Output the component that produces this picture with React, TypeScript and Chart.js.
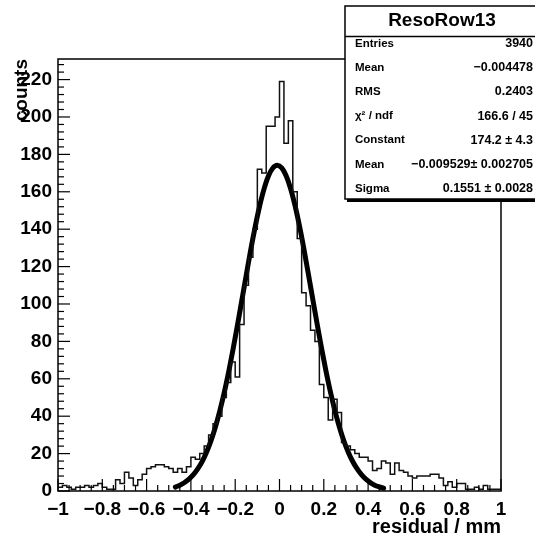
import React, { useEffect, useRef } from "react";
import { Chart, registerables } from "chart.js";

Chart.register(...registerables);

// Histogram: 100 bins from -1 to 1
const histMin = -1;
const binWidth = 0.02;
const counts = [
  2, 3, 2, 1, 2, 2, 3, 2, 3, 4, 2, 1, 1,
  6, 4, 10, 7, 3, 6, 9, 12, 13, 14, 14, 13, 12, 10, 12, 10, 13, 18, 17,
  20, 24, 30, 36, 40, 50, 58, 69, 61, 89, 110, 125, 140, 172, 170, 195, 195, 200,
  219, 186, 198, 160, 135, 106, 99, 86, 80, 57, 50, 38, 49,
  42, 26, 24, 22, 20, 18, 18, 16, 11, 12, 16, 15, 9, 15, 11, 10, 8,
  7, 8, 8, 8, 9, 9, 7, 3, 5, 2, 4, 4, 1, 1, 2, 1, 3, 1, 1, 1,
];

// Gaussian fit curve samples
const fitX = [
  -0.47, -0.45, -0.43, -0.41, -0.39, -0.37, -0.35, -0.33, -0.31, -0.29, -0.27, -0.25,
  -0.23, -0.21, -0.19, -0.17, -0.15, -0.13, -0.11, -0.09, -0.07, -0.05, -0.03, -0.01,
  0.01, 0.03, 0.05, 0.07, 0.09, 0.11, 0.13, 0.15, 0.17, 0.19, 0.21, 0.23,
  0.25, 0.27, 0.29, 0.31, 0.33, 0.35, 0.37, 0.39, 0.41, 0.43, 0.45, 0.47,
];
const fitY = [
  2.1, 3.1, 4.4, 6.2, 8.6, 11.7, 15.6, 20.6, 26.7, 34.0, 42.6, 52.4,
  63.4, 75.6, 88.5, 102.0, 115.5, 128.9, 141.2, 152.2, 161.4, 168.4, 172.7, 174.2,
  172.8, 168.6, 161.8, 152.7, 141.8, 129.5, 116.2, 102.7, 89.2, 76.2, 64.0, 52.9,
  43.0, 34.4, 27.0, 20.9, 15.9, 11.9, 8.7, 6.3, 4.5, 3.1, 2.2, 1.5,
];

// Axis tick labels
const xTickValues = [-1, -0.8, -0.6, -0.4, -0.2, 0, 0.2, 0.4, 0.6, 0.8, 1];
const xTickLabels = ["−1", "−0.8", "−0.6", "−0.4", "−0.2", "0", "0.2", "0.4", "0.6", "0.8", "1"];
const yTickValues = [0, 20, 40, 60, 80, 100, 120, 140, 160, 180, 200, 220];

const statsTitle = "ResoRow13";
const statsLabels = ["Entries", "Mean", "RMS", "χ² / ndf", "Constant", "Mean", "Sigma"];
const statsValues = [
  "3940",
  "−0.004478",
  "0.2403",
  "166.6 / 45",
  "174.2 ± 4.3",
  "−0.009529± 0.002705",
  "0.1551 ± 0.0028",
];

const xTitle = "residual / mm";
const yTitle = "counts";

const FONT = "'Liberation Sans', Arial, Helvetica, sans-serif";

const rootPlugin = {
  id: "rootDecor",
  afterDatasetsDraw(chart: any) {
    const { ctx, chartArea } = chart;
    const xs = chart.scales.x;
    const ys = chart.scales.y;
    const { left, right, top, bottom } = chartArea;
    ctx.save();
    ctx.strokeStyle = "#000";
    ctx.lineWidth = 1.5;
    // frame
    ctx.strokeRect(left, top, right - left, bottom - top);
    // x ticks (inward)
    ctx.lineWidth = 1.2;
    for (let k = -20; k <= 20; k++) {
      const v = k * 0.05;
      const px = xs.getPixelForValue(v);
      const len = k % 4 === 0 ? 12 : 6;
      ctx.beginPath();
      ctx.moveTo(px, bottom);
      ctx.lineTo(px, bottom - len);
      ctx.stroke();
    }
    // y ticks (inward)
    for (let k = 0; k <= 57; k++) {
      const v = k * 4;
      if (v > ys.max) break;
      const py = ys.getPixelForValue(v);
      const len = k % 5 === 0 ? 12 : 6;
      ctx.beginPath();
      ctx.moveTo(left, py);
      ctx.lineTo(left + len, py);
      ctx.stroke();
    }
    // axis titles
    ctx.fillStyle = "#000";
    ctx.font = `bold 20px ${FONT}`;
    ctx.textAlign = "right";
    ctx.textBaseline = "middle";
    ctx.fillText(xTitle, right, 527);
    ctx.save();
    ctx.translate(22, top);
    ctx.rotate(-Math.PI / 2);
    ctx.font = `bold 19px ${FONT}`;
    ctx.textAlign = "right";
    ctx.textBaseline = "middle";
    ctx.fillText(yTitle, 0, 0);
    ctx.restore();

    // stats box
    const bx = 345, by = 6, bw = 200, bh = 193;
    ctx.fillStyle = "#000";
    ctx.fillRect(bx + 2, by + 2, bw, bh + 1);
    ctx.fillStyle = "#fff";
    ctx.fillRect(bx, by, bw, bh);
    ctx.lineWidth = 1.5;
    ctx.strokeStyle = "#000";
    ctx.strokeRect(bx, by, bw, bh);
    ctx.beginPath();
    ctx.moveTo(bx, 36.5);
    ctx.lineTo(bx + bw, 36.5);
    ctx.stroke();
    ctx.fillStyle = "#000";
    ctx.font = `bold 19px ${FONT}`;
    ctx.textAlign = "center";
    ctx.textBaseline = "middle";
    ctx.fillText(statsTitle, 442, 21);
    for (let i = 0; i < statsLabels.length; i++) {
      const yy = 43.5 + i * 24.2;
      ctx.font = `bold 11.5px ${FONT}`;
      ctx.textAlign = "left";
      ctx.fillText(statsLabels[i], 355, yy);
      ctx.font = `bold 12.5px ${FONT}`;
      ctx.textAlign = "right";
      ctx.fillText(statsValues[i], 533, yy);
    }
    ctx.restore();
  },
};

export default function App() {
  const ref = useRef<HTMLCanvasElement>(null);
  useEffect(() => {
    if (!ref.current) return;
    const histPoints = counts.map((c, i) => ({ x: histMin + binWidth * i, y: c }));
    histPoints.push({ x: histMin + binWidth * counts.length, y: counts[counts.length - 1] });
    const fitPoints = fitX.map((x, i) => ({ x, y: fitY[i] }));
    const chart = new Chart(ref.current, {
      type: "line",
      data: {
        datasets: [
          {
            data: histPoints,
            stepped: "before",
            borderColor: "#111",
            borderWidth: 1.5,
            pointRadius: 0,
            fill: false,
          },
          {
            data: fitPoints,
            borderColor: "#000",
            borderWidth: 5,
            borderCapStyle: "round",
            borderJoinStyle: "round",
            cubicInterpolationMode: "monotone",
            pointRadius: 0,
            fill: false,
          },
        ],
      },
      options: {
        responsive: false,
        animation: false,
        devicePixelRatio: 1,
        layout: { padding: { left: 0, top: 59, right: 34, bottom: 0 } },
        plugins: { legend: { display: false }, tooltip: { enabled: false } },
        scales: {
          x: {
            type: "linear",
            min: -1,
            max: 1,
            grid: { display: false, drawTicks: false },
            border: { display: false },
            afterFit: (s: any) => { s.height = 49; },
            afterBuildTicks: (s: any) => {
              s.ticks = xTickValues.map((v) => ({ value: v }));
            },
            ticks: {
              autoSkip: false,
              maxRotation: 0,
              minRotation: 0,
              padding: 7,
              color: "#000",
              font: { family: FONT, size: 19, weight: "bold" },
              callback: (v: any) => {
                const idx = xTickValues.findIndex((t) => Math.abs(t - Number(v)) < 1e-9);
                return idx >= 0 ? xTickLabels[idx] : "";
              },
            },
          },
          y: {
            type: "linear",
            min: 0,
            max: 231,
            grid: { display: false, drawTicks: false },
            border: { display: false },
            afterFit: (s: any) => { s.width = 58; },
            afterBuildTicks: (s: any) => {
              s.ticks = yTickValues.map((v) => ({ value: v }));
            },
            ticks: {
              autoSkip: false,
              padding: 6,
              color: "#000",
              font: { family: FONT, size: 19, weight: "bold" },
            },
          },
        },
      },
      plugins: [rootPlugin],
    });
    return () => chart.destroy();
  }, []);
  return (
    <div style={{ position: "fixed", left: 0, top: 0, width: 535, height: 540, background: "#fff" }}>
      <canvas ref={ref} width={535} height={540} />
    </div>
  );
}
